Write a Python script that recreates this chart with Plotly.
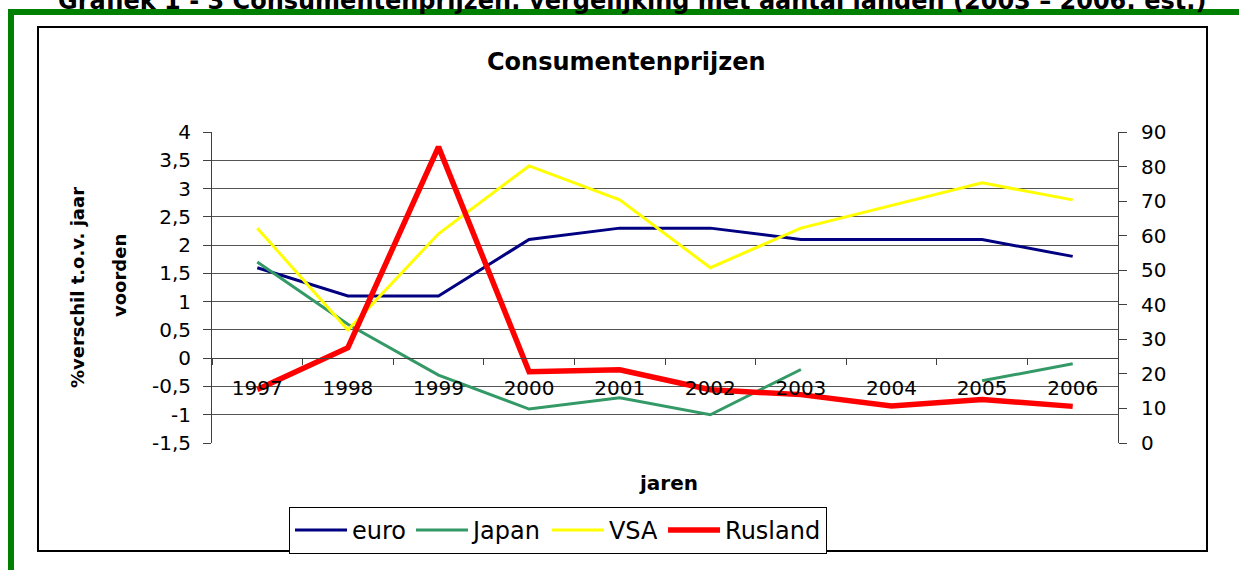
import plotly.graph_objects as go

# ---- data ----
years = ["1997", "1998", "1999", "2000", "2001", "2002", "2003", "2004", "2005", "2006"]
euro = [1.6, 1.1, 1.1, 2.1, 2.3, 2.3, 2.1, 2.1, 2.1, 1.8]
japan = [1.7, 0.6, -0.3, -0.9, -0.7, -1.0, -0.2, None, -0.4, -0.1]
vsa = [2.3, 0.5, 2.2, 3.4, 2.8, 1.6, 2.3, 2.7, 3.1, 2.8]
rusland = [15.5, 27.6, 85.7, 20.6, 21.2, 15.4, 14.0, 10.7, 12.6, 10.6]

left_ticks = [-1.5, -1, -0.5, 0, 0.5, 1, 1.5, 2, 2.5, 3, 3.5, 4]
left_labels = ["-1,5", "-1", "-0,5", "0", "0,5", "1", "1,5", "2", "2,5", "3", "3,5", "4"]
right_ticks = [0, 10, 20, 30, 40, 50, 60, 70, 80, 90]

W, H = 1239, 570
PLOT_L, PLOT_R, PLOT_T, PLOT_B = 212, 1118, 132, 443  # page pixels
L, R, T, B = PLOT_L, W - PLOT_R, PLOT_T, H - PLOT_B
PW, PH = W - L - R, H - T - B
YMIN, YMAX = -1.5, 4.0

def fx(px):
    return (px - L) / PW

def fy(py):
    return (H - B - py) / PH

FONT = "DejaVu Sans"

fig = go.Figure()
fig.add_trace(go.Scatter(x=years, y=euro, name="euro", mode="lines",
                         line=dict(color="#000080", width=3)))
fig.add_trace(go.Scatter(x=years, y=japan, name="Japan", mode="lines",
                         line=dict(color="#339966", width=3), connectgaps=False))
fig.add_trace(go.Scatter(x=years, y=vsa, name="VSA", mode="lines",
                         line=dict(color="#FFFF00", width=3)))
fig.add_trace(go.Scatter(x=years, y=rusland, name="Rusland", mode="lines",
                         line=dict(color="#FF0000", width=5.5), yaxis="y2"))

axis_col = "#404040"
fig.update_layout(
    width=W, height=H,
    margin=dict(l=L, r=R, t=T, b=B, pad=0),
    paper_bgcolor="white", plot_bgcolor="white",
    font=dict(family=FONT, size=20, color="black"),
    showlegend=True,
    legend=dict(orientation="h", x=fx(289), y=fy(507), xanchor="left", yanchor="top",
                bordercolor="black", borderwidth=1, font=dict(size=24, family=FONT),
                itemwidth=52, tracegroupgap=0, bgcolor="white"),
    xaxis=dict(type="category", range=[-0.5, 9.5], anchor="free",
               position=(0 - YMIN) / (YMAX - YMIN),
               showline=True, linecolor=axis_col, linewidth=1,
               ticks="outside", ticklen=6, tickcolor=axis_col, tickson="boundaries",
               ticklabelstandoff=12, showgrid=False, zeroline=False,
               tickfont=dict(size=20, family=FONT)),
    yaxis=dict(range=[YMIN, YMAX], tickvals=left_ticks, ticktext=left_labels,
               showline=True, linecolor=axis_col, linewidth=1,
               ticks="outside", ticklen=8, tickcolor=axis_col,
               showgrid=True, gridcolor="#555555", gridwidth=1, zeroline=False,
               tickfont=dict(size=20, family=FONT), ticklabelstandoff=8),
    yaxis2=dict(range=[0, 90], tickvals=right_ticks, overlaying="y", side="right",
                showline=True, linecolor=axis_col, linewidth=1,
                ticks="outside", ticklen=8, tickcolor=axis_col,
                showgrid=False, zeroline=False,
                tickfont=dict(size=20, family=FONT), ticklabelstandoff=10),
)

annotations = [
    dict(text="<b>Grafiek 1 - 3 Consumentenprijzen: vergelijking met aantal landen (2003 – 2006: est.)</b>",
         x=fx(632), y=fy(1), xref="paper", yref="paper", showarrow=False,
         xanchor="center", yanchor="middle", font=dict(size=24, family=FONT)),
    dict(text="<b>Consumentenprijzen</b>", x=fx(626), y=fy(62), xref="paper", yref="paper",
         showarrow=False, xanchor="center", yanchor="middle", font=dict(size=24, family=FONT)),
    dict(text="<b>%verschil t.o.v. jaar</b>", x=fx(77), y=fy(288), xref="paper", yref="paper",
         showarrow=False, xanchor="center", yanchor="middle", textangle=-90,
         font=dict(size=18, family=FONT)),
    dict(text="<b>voorden</b>", x=fx(119), y=fy(276), xref="paper", yref="paper",
         showarrow=False, xanchor="center", yanchor="middle", textangle=-90,
         font=dict(size=18, family=FONT)),
    dict(text="<b>jaren</b>", x=fx(668), y=fy(483), xref="paper", yref="paper",
         showarrow=False, xanchor="center", yanchor="middle", font=dict(size=20, family=FONT)),
]
fig.update_layout(annotations=annotations)

shapes = [
    # green frame
    dict(type="rect", xref="paper", yref="paper", x0=fx(8), x1=fx(14), y0=fy(9), y1=fy(580),
         fillcolor="#008000", line=dict(width=0)),
    dict(type="rect", xref="paper", yref="paper", x0=fx(8), x1=fx(1250), y0=fy(9), y1=fy(15),
         fillcolor="#008000", line=dict(width=0)),
    # black chart frame
    dict(type="rect", xref="paper", yref="paper", x0=fx(38), x1=fx(1207), y0=fy(27), y1=fy(551),
         fillcolor="rgba(0,0,0,0)", line=dict(color="black", width=2)),
]
fig.update_layout(shapes=shapes)

fig.write_html("out.html", config={"displayModeBar": False},
               post_script="document.body.style.margin='0';document.body.style.overflow='hidden';")
